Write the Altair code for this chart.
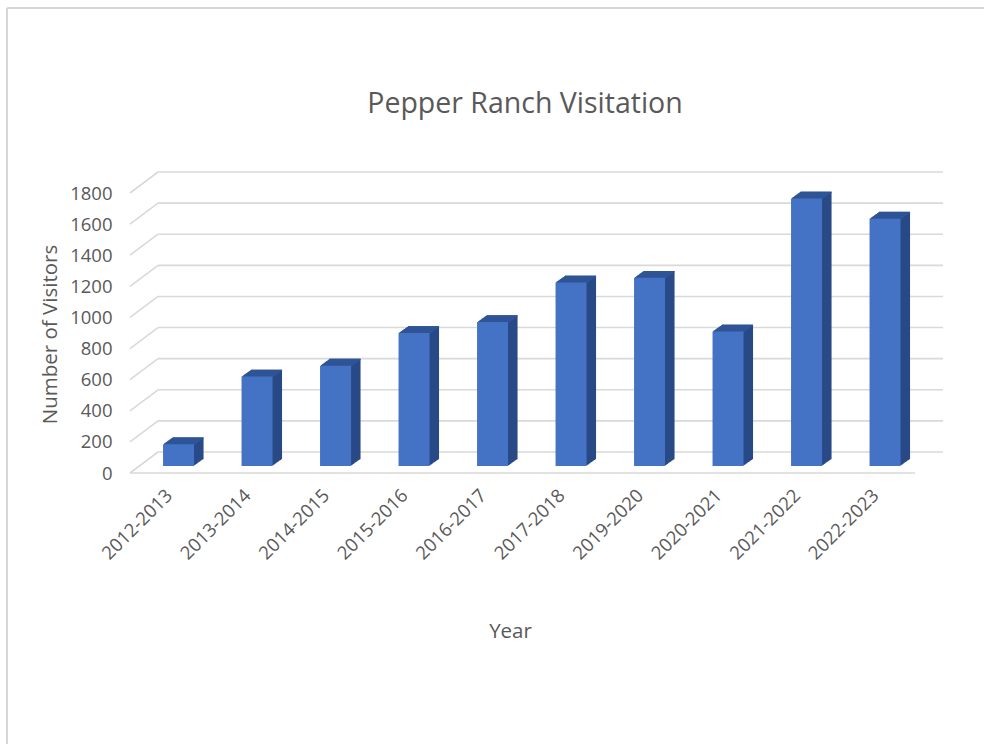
import altair as alt
import pandas as pd

years = ["2012-2013", "2013-2014", "2014-2015", "2015-2016", "2016-2017",
         "2017-2018", "2019-2020", "2020-2021", "2021-2022", "2022-2023"]
visitors = [140, 575, 645, 855, 925, 1180, 1210, 865, 1720, 1590]
y_ticks = [0, 200, 400, 600, 800, 1000, 1200, 1400, 1600, 1800]

chart_title = "Pepper Ranch Visitation"
x_title = "Year"
y_title = "Number of Visitors"

FRONT = "#4472C4"
TOP = "#2F5597"
SIDE = "#284A86"
GRID = "#D9D9D9"
TEXT = "#595959"
FONT = "Open Sans"

W, H = 785, 280
DEPTH_X, DEPTH_Y = 28, 21
BAR_DX, BAR_DY = 9.3, -7.0
STEPS = 10
STEP_X, STEP_Y = 0.95, -0.68

df = pd.DataFrame({"year": years, "visitors": visitors})
ticks_df = pd.DataFrame({"t": y_ticks})

yscale = alt.Scale(domain=[0, 1800], nice=False)
xscale = alt.Scale(paddingInner=0.605, paddingOuter=0.3025)


def x_axis():
    return alt.Axis(
        title=x_title, labelAngle=315, labelAlign="right", labelBaseline="middle",
        labelPadding=19, ticks=False, tickSize=0, domain=False, grid=False,
        titleX=380, titleY=158, titleAlign="center", titleBaseline="middle",
    )


def y_axis():
    return alt.Axis(
        title=y_title, values=y_ticks, format="d", ticks=False, tickSize=0,
        domain=False, grid=False,
        labelPadding=18, titleX=-80, titleY=141, titleAngle=270,
        titleAlign="center", titleBaseline="middle",
    )


def X():
    return alt.X("year:N", sort=years, scale=xscale, axis=x_axis())


def Y(field):
    return alt.Y(field, scale=yscale, axis=y_axis())


layers = []

# back-wall gridlines
layers.append(
    alt.Chart(ticks_df).mark_rule(color=GRID, strokeWidth=1.6, yOffset=-DEPTH_Y).encode(
        y=Y("t:Q"), x=alt.value(DEPTH_X), x2=alt.value(W + DEPTH_X),
    )
)
# side-wall diagonals
layers.append(
    alt.Chart(ticks_df).mark_rule(color=GRID, strokeWidth=1.6, y2Offset=-DEPTH_Y).encode(
        y=Y("t:Q"), y2=alt.Y2("t:Q"), x=alt.value(0), x2=alt.value(DEPTH_X),
    )
)
# front floor edge
layers.append(
    alt.Chart(ticks_df).transform_filter("datum.t == 0").mark_rule(color=GRID, strokeWidth=1.6).encode(
        y=Y("t:Q"), x=alt.value(0), x2=alt.value(W),
    )
)

# side extrusion
for i in range(STEPS, 0, -1):
    dx = BAR_DX + STEP_X * i
    dy = BAR_DY + STEP_Y * i
    layers.append(
        alt.Chart(df).mark_bar(color=SIDE, xOffset=dx, x2Offset=dx, yOffset=dy, y2Offset=dy).encode(
            x=X(), y=Y("visitors:Q")
        )
    )
# top face
for i in range(STEPS, 0, -1):
    dx = BAR_DX + STEP_X * i
    dy = BAR_DY + STEP_Y * i
    layers.append(
        alt.Chart(df).transform_calculate(vt="datum.visitors - 9").mark_bar(
            color=TOP, xOffset=dx, x2Offset=dx, yOffset=dy, y2Offset=dy
        ).encode(x=X(), y=Y("vt:Q"), y2=alt.Y2("visitors:Q"))
    )

# front faces
layers.append(
    alt.Chart(df).mark_bar(
        color=FRONT, xOffset=BAR_DX, x2Offset=BAR_DX, yOffset=BAR_DY, y2Offset=BAR_DY
    ).encode(x=X(), y=Y("visitors:Q"))
)

# chart title
layers.append(
    alt.Chart(pd.DataFrame({"label": [chart_title]})).mark_text(
        font=FONT, fontSize=28.5, color=TEXT, align="center", baseline="alphabetic"
    ).encode(text="label:N", x=alt.value(395), y=alt.value(-80))
)

# outer frame lines (top and left)
layers.append(
    alt.Chart(ticks_df).transform_filter("datum.t == 0").mark_rule(color="#D6D6D6", strokeWidth=2).encode(
        x=alt.value(-123), x2=alt.value(860), y=alt.value(-185)
    )
)
layers.append(
    alt.Chart(ticks_df).transform_filter("datum.t == 0").mark_rule(color="#D6D6D6", strokeWidth=2).encode(
        x=alt.value(-123), y=alt.value(-185), y2=alt.value(560)
    )
)

chart = alt.layer(*layers).properties(
    width=W, height=H,
    autosize=alt.AutoSizeParams(type="none"),
    padding={"left": 130, "top": 193, "right": 69, "bottom": 271},
    background="white",
).configure_view(stroke=None).configure_axis(
    labelFont=FONT, labelFontSize=18.5, labelColor=TEXT,
    titleFont=FONT, titleFontSize=20.5, titleFontWeight="normal", titleColor=TEXT,
)

chart.save("out.html", embed_options={"renderer": "svg", "actions": False})
